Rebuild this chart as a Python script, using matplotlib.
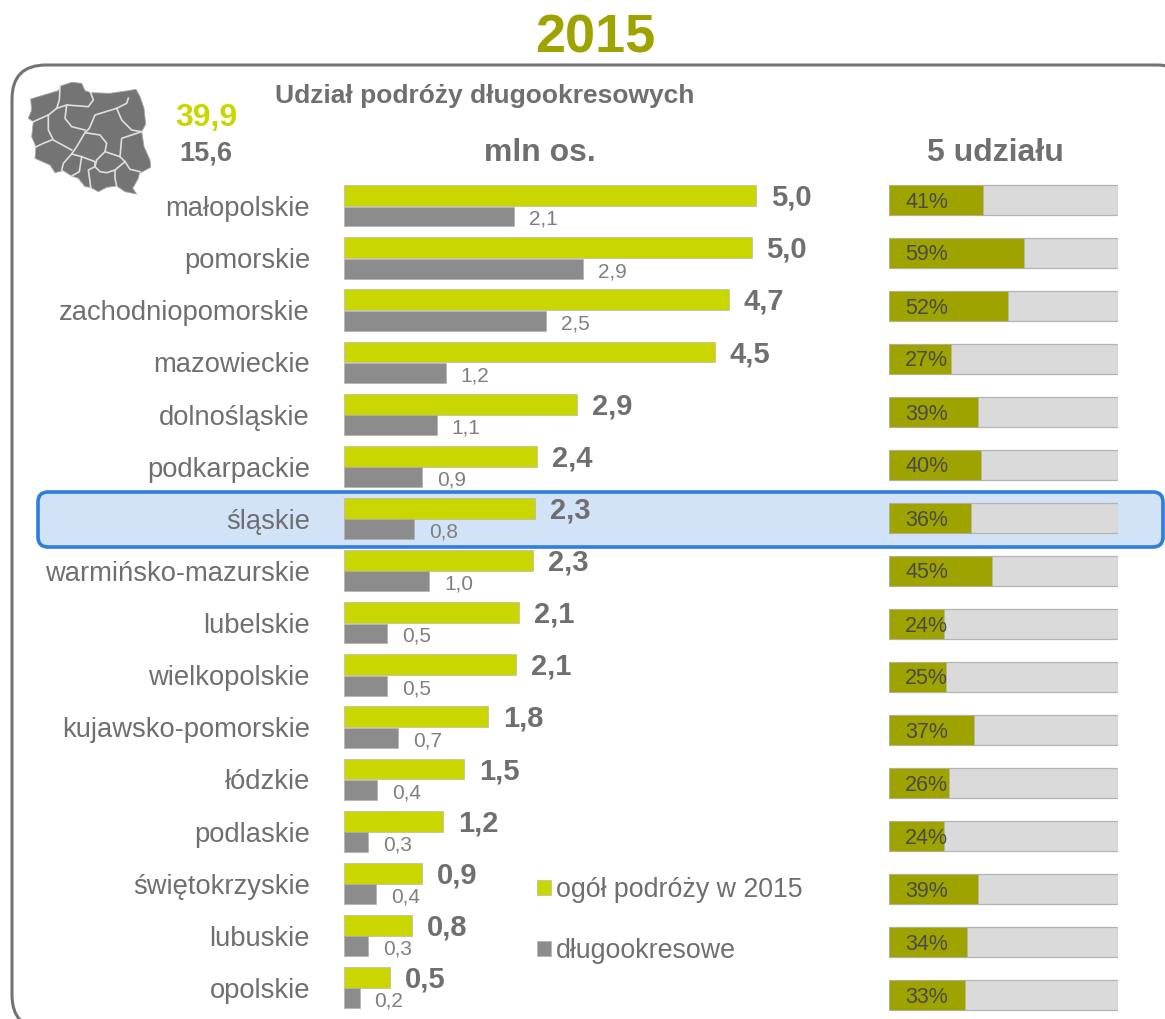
import numpy as np
import matplotlib
matplotlib.use("Agg")
import matplotlib.pyplot as plt
from matplotlib.patches import FancyBboxPatch, Polygon

plt.rcParams['font.family'] = ['Liberation Sans', 'DejaVu Sans']

# dane
regiony = ['małopolskie', 'pomorskie', 'zachodniopomorskie', 'mazowieckie', 'dolnośląskie',
           'podkarpackie', 'śląskie', 'warmińsko-mazurskie', 'lubelskie', 'wielkopolskie',
           'kujawsko-pomorskie', 'łódzkie', 'podlaskie', 'świętokrzyskie', 'lubuskie', 'opolskie']
ogol = [5.02, 4.97, 4.69, 4.52, 2.84, 2.35, 2.33, 2.31, 2.14, 2.10, 1.76, 1.46, 1.21, 0.95, 0.83, 0.56]
dlugie = [2.07, 2.91, 2.46, 1.24, 1.13, 0.95, 0.85, 1.04, 0.52, 0.52, 0.66, 0.40, 0.29, 0.39, 0.29, 0.19]
ogol_etykiety = ['5,0', '5,0', '4,7', '4,5', '2,9', '2,4', '2,3', '2,3', '2,1', '2,1', '1,8', '1,5', '1,2', '0,9', '0,8', '0,5']
dlugie_etykiety = ['2,1', '2,9', '2,5', '1,2', '1,1', '0,9', '0,8', '1,0', '0,5', '0,5', '0,7', '0,4', '0,3', '0,4', '0,3', '0,2']
udzial = [41, 59, 52, 27, 39, 40, 36, 45, 24, 25, 37, 26, 24, 39, 34, 33]

ZIELONY = '#c9d600'
OLIWKA = '#9ea300'
SZARY = '#8c8c8c'
TEKST = '#6f6f6f'

W, H = 1165, 1019
fig = plt.figure(figsize=(W / 100, H / 100), dpi=100)

# tlo w pikselach: ramka, podswietlenie, mapa
bg = fig.add_axes([0, 0, 1, 1])
bg.set_xlim(0, W)
bg.set_ylim(H, 0)
bg.axis('off')

bg.add_patch(FancyBboxPatch((12, 65), 1179, 964, boxstyle='round,pad=0,rounding_size=34',
                            fc='white', ec='#737373', lw=2.2))
bg.add_patch(FancyBboxPatch((38, 492), 1125, 55, boxstyle='round,pad=0,rounding_size=10',
                            fc='#d2e3f8', ec='#2f7de0', lw=2.6, zorder=2))


def mapa_px(punkty):
    return [(px / 3, py / 3 + 50) for px, py in punkty]


kontur = [(92, 147), (175, 122), (182, 108), (215, 97), (245, 100), (255, 122), (272, 128), (330, 130),
          (385, 122), (408, 118), (420, 140), (432, 175), (437, 222), (425, 245), (432, 290), (450, 330),
          (452, 352), (418, 370), (415, 385), (398, 415), (410, 432), (375, 425), (350, 408), (320, 412),
          (295, 425), (272, 412), (255, 410), (235, 385), (215, 378), (190, 362), (165, 368), (150, 345),
          (105, 325), (108, 290), (95, 260), (100, 215), (85, 205), (95, 180)]
bg.add_patch(Polygon(mapa_px(kontur), closed=True, fc='#747474', ec='#a5a5a5', lw=0.6, zorder=2))
granice = [[(180, 110), (178, 150), (170, 175), (145, 195), (100, 215)],
           [(272, 128), (280, 150), (265, 170), (200, 165), (170, 175)],
           [(385, 145), (380, 160), (350, 175), (285, 195), (268, 235), (255, 248)],
           [(200, 165), (195, 205), (215, 230), (255, 240)],
           [(145, 195), (145, 240), (160, 270), (215, 300)],
           [(105, 292), (130, 280), (155, 270)],
           [(350, 175), (365, 210), (395, 240), (425, 245)],
           [(255, 248), (230, 290), (215, 312), (190, 340), (185, 362)],
           [(255, 248), (300, 255), (320, 280), (315, 305), (290, 330), (285, 350)],
           [(315, 305), (360, 320), (365, 265), (425, 245)],
           [(360, 320), (375, 335), (345, 360), (345, 385), (350, 408)],
           [(215, 312), (245, 320), (285, 335), (285, 350)],
           [(245, 320), (238, 365), (215, 378)],
           [(285, 350), (300, 365), (320, 368), (345, 360)],
           [(285, 350), (265, 360), (270, 395), (272, 412)],
           [(375, 335), (390, 358), (420, 365)]]
for g in granice:
    bg.plot(*zip(*mapa_px(g)), color='#dedede', lw=1.2, zorder=3)

bg.text(595, 38, '2015', color=OLIWKA, fontsize=39, fontweight='bold', ha='center', va='center')
bg.text(275, 96, 'Udział podróży długookresowych', color=TEKST, fontsize=19, fontweight='bold', va='center')
bg.text(206, 118, '39,9', color=ZIELONY, fontsize=23, fontweight='bold', ha='center', va='center')
bg.text(206, 153, '15,6', color=TEKST, fontsize=19.5, fontweight='bold', ha='center', va='center')
bg.text(540, 153, 'mln os.', color=TEKST, fontsize=23, fontweight='bold', ha='center', va='center')
bg.text(995, 153, '5 udziału', color=TEKST, fontsize=23, fontweight='bold', ha='center', va='center')

# wykres slupkowy
y = np.arange(len(regiony))
top, bottom = 180, 1014
ax = fig.add_axes([344 / W, 1 - bottom / H, 460 / W, (bottom - top) / H])
ax.patch.set_alpha(0)
ax.set_xlim(0, 460 / 82)
ax.set_ylim(len(regiony) - 0.5, -0.5)
ax.axis('off')

b1 = ax.barh(y - 0.2, ogol, height=0.4, color=ZIELONY, edgecolor='#b8b8b8', lw=0.5, label='ogół podróży w 2015')
b2 = ax.barh(y + 0.2, dlugie, height=0.38, color=SZARY, edgecolor='#b0b0b0', lw=0.5, label='długookresowe')

for i in y:
    ax.annotate(ogol_etykiety[i], (ogol[i], i - 0.2), xytext=(15, -2), textcoords='offset pixels',
                color=TEKST, fontsize=21, fontweight='bold', va='center')
    ax.annotate(dlugie_etykiety[i], (dlugie[i], i + 0.2), xytext=(15, -3), textcoords='offset pixels',
                color='#7f7f7f', fontsize=15, va='center')
    ax.annotate(regiony[i], (0, i), xytext=(-34, -3), textcoords='offset pixels',
                color=TEKST, fontsize=19.7, ha='right', va='center')

ax.legend(handles=[b1, b2], loc='upper left', bbox_to_anchor=((537 - 344) / 460, 1 - (877 - top) / (bottom - top)),
          frameon=False, fontsize=19.3, labelcolor=TEKST, handlelength=0.52, handleheight=0.52,
          handletextpad=0.2, labelspacing=1.3, borderpad=0, borderaxespad=0)

# paski udzialu
top2, bottom2 = 173.5, 1021.5
ax2 = fig.add_axes([889 / W, 1 - bottom2 / H, 229 / W, (bottom2 - top2) / H])
ax2.patch.set_alpha(0)
ax2.set_xlim(0, 100)
ax2.set_ylim(len(regiony) - 0.5, -0.5)
ax2.axis('off')
ax2.barh(y, [100] * len(y), height=0.58, color='#dadada', edgecolor='#b4b4b4', lw=0.9)
ax2.barh(y, udzial, height=0.58, color=OLIWKA, edgecolor='#b4b4b4', lw=0.5)
for i in y:
    ax2.annotate(f'{udzial[i]}%', (0, i), xytext=(16, -2), textcoords='offset pixels',
                 color='#4a4a4a', fontsize=15.5, va='center', zorder=5)

fig.savefig('out.png', dpi=100)
